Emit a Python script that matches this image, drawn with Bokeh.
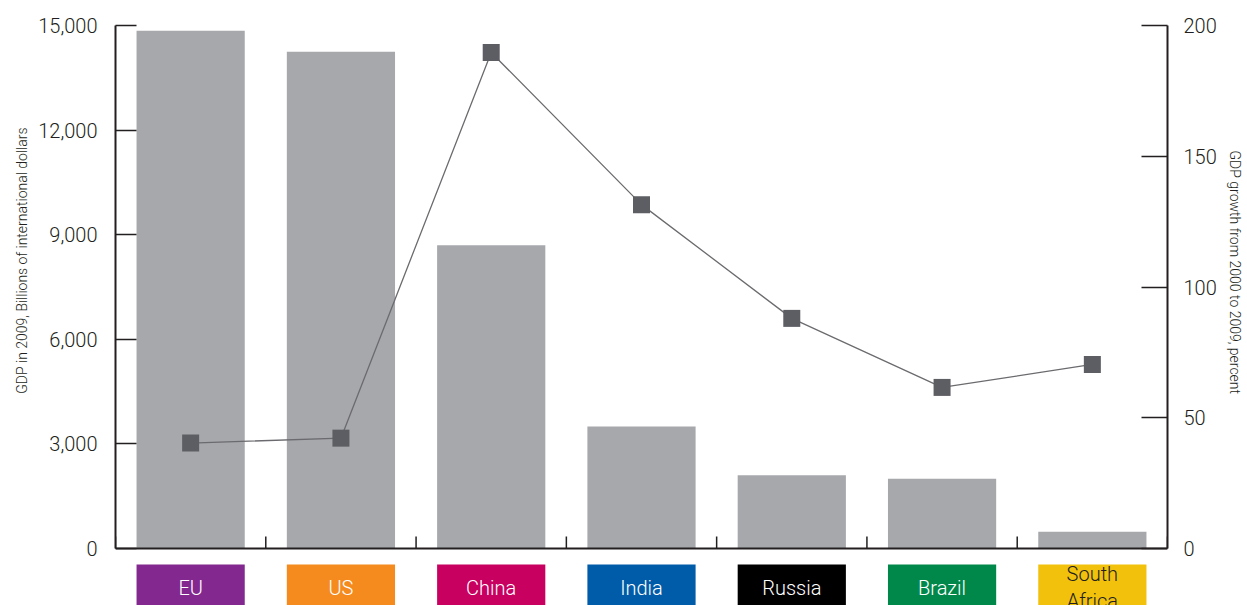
from bokeh.plotting import figure
from bokeh.models import Range1d, LinearAxis, FixedTicker, NumeralTickFormatter, Span, Title
from bokeh.embed import file_html
from bokeh.resources import INLINE
from bokeh.core.properties import value

# ---------------- data ----------------
categories = ["EU", "US", "China", "India", "Russia", "Brazil", "South Africa"]
gdp_2009 = [14850, 14250, 8700, 3500, 2100, 2000, 480]          # billions of intl dollars
growth_pct = [40.3, 42.2, 189.7, 131.5, 88.0, 61.6, 70.4]        # % growth 2000-2009
gdp_ticks = [0, 3000, 6000, 9000, 12000, 15000]
growth_ticks = [0, 50, 100, 150, 200]
left_title = "GDP in 2009, Billions of international dollars"
right_title = "GDP growth from 2000 to 2009, percent"

# ---------------- styles ----------------
category_colors = ["#82288f", "#f58a1f", "#c8005f", "#005ca8", "#000000", "#00874a", "#f2c10c"]
label_colors = ["#ffffff", "#ffffff", "#ffffff", "#ffffff", "#ffffff", "#ffffff", "#231f20"]
BAR_COLOR = "#a7a8ac"
MARK_COLOR = "#5d5e63"
LINE_COLOR = "#6b6b6f"
INK = "#231f20"
LIGHT_FONT = "Roboto Light, Roboto"

W, H = 1247, 605
TOP = 25
LEFT, RIGHT_BORDER = 115, 80
GDP_MAX = gdp_ticks[-1]
G_MAX = growth_ticks[-1]
PLOT_PX = 523                     # pixels between 0 and the top tick
FRAME_PX = H - TOP                # frame reaches the bottom (colour boxes live below 0)
below_px = FRAME_PX - PLOT_PX
gdp_per_px = GDP_MAX / PLOT_PX
g_per_px = G_MAX / PLOT_PX

n = len(categories)
xs = list(range(n))

p = figure(width=W, height=H, output_backend="svg", toolbar_location=None,
           x_range=Range1d(-0.5, n - 0.5),
           y_range=Range1d(-below_px * gdp_per_px, GDP_MAX),
           x_axis_location=None,
           min_border_left=LEFT, min_border_right=RIGHT_BORDER, min_border_top=TOP, min_border_bottom=0)
p.extra_y_ranges = {"growth": Range1d(-below_px * g_per_px, G_MAX)}
p.outline_line_color = None
p.grid.visible = False
p.background_fill_color = "white"

# bars
p.vbar(x=xs, top=gdp_2009, bottom=0, width=0.72, fill_color=BAR_COLOR, line_color=None)

# bottom axis line and category boundary ticks
p.add_layout(Span(location=0, dimension="width", line_color=INK, line_width=2))
bounds_x = [i - 0.5 for i in range(n + 1)]
p.segment(x0=bounds_x, y0=[0] * len(bounds_x), x1=bounds_x, y1=[12 * gdp_per_px] * len(bounds_x),
          line_color=INK, line_width=1.5)

# colour boxes with category names
p.vbar(x=xs, top=-16 * gdp_per_px, bottom=-(below_px + 20) * gdp_per_px, width=0.72,
       fill_color=category_colors, line_color=None)
p.text(x=xs, y=[-39 * gdp_per_px] * n, text=[c.replace(" ", "\n") for c in categories],
       text_color=label_colors, text_align="center", text_baseline="middle",
       text_font=value(LIGHT_FONT), text_font_size="20px", text_line_height=1.15)

# growth line
p.line(x=xs, y=growth_pct, y_range_name="growth", line_color=LINE_COLOR, line_width=1.3)
p.scatter(x=xs, y=growth_pct, y_range_name="growth", marker="square", size=17,
          fill_color=MARK_COLOR, line_color=None)


def style_axis(ax, tick_in, standoff):
    ax.major_tick_in = tick_in
    ax.major_tick_out = 0
    ax.minor_tick_line_color = None
    ax.major_tick_line_color = INK
    ax.major_tick_line_width = 1.3
    ax.axis_line_color = INK
    ax.axis_line_width = 2
    ax.major_label_text_font = LIGHT_FONT
    ax.major_label_text_font_size = "20px"
    ax.major_label_text_color = INK
    ax.major_label_standoff = standoff


# left axis
ly = p.yaxis[0]
ly.ticker = FixedTicker(ticks=gdp_ticks)
ly.formatter = NumeralTickFormatter(format="0,0")
ly.bounds = (0, GDP_MAX)
style_axis(ly, 21, 18)

# right axis
ry = LinearAxis(y_range_name="growth", ticker=FixedTicker(ticks=growth_ticks), bounds=(0, G_MAX))
style_axis(ry, 26, 16)
p.add_layout(ry, "right")

# axis titles as side titles so they can be positioned along the axes
lt = Title(text=left_title, align="right", offset=102, text_font=LIGHT_FONT,
           text_font_size="14px", text_font_style="normal", text_color=INK, standoff=12)
p.add_layout(lt, "left")
rt = Title(text=right_title, align="left", offset=150 - TOP, vertical_align="top", text_font=LIGHT_FONT,
           text_font_size="14px", text_font_style="normal", text_color=INK, standoff=10)
p.add_layout(rt, "right")

open("out.html", "w").write(file_html(p, INLINE))
